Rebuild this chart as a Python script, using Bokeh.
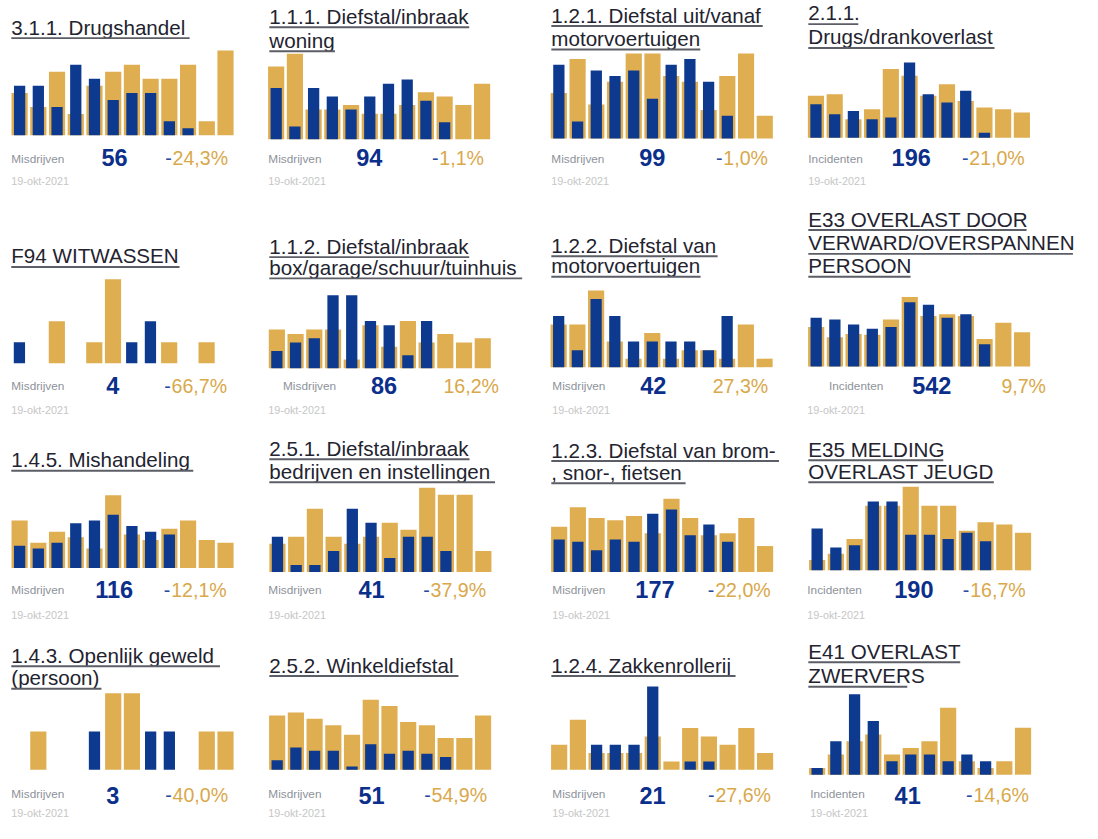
from bokeh.plotting import figure
from bokeh.layouts import gridplot
from bokeh.models import Range1d, Label, BoxAnnotation
from bokeh.embed import file_html
from bokeh.resources import INLINE

# ---------------- data ----------------
TITLES = [
    ["3.1.1. Drugshandel"],
    ["1.1.1. Diefstal/inbraak", "woning"],
    ["1.2.1. Diefstal uit/vanaf", "motorvoertuigen"],
    ["2.1.1.", "Drugs/drankoverlast"],
    ["F94 WITWASSEN"],
    ["1.1.2. Diefstal/inbraak", "box/garage/schuur/tuinhuis"],
    ["1.2.2. Diefstal van", "motorvoertuigen"],
    ["E33 OVERLAST DOOR", "VERWARD/OVERSPANNEN", "PERSOON"],
    ["1.4.5. Mishandeling"],
    ["2.5.1. Diefstal/inbraak", "bedrijven en instellingen"],
    ["1.2.3. Diefstal van brom-", ", snor-, fietsen"],
    ["E35 MELDING", "OVERLAST JEUGD"],
    ["1.4.3. Openlijk geweld", "(persoon)"],
    ["2.5.2. Winkeldiefstal"],
    ["1.2.4. Zakkenrollerij"],
    ["E41 OVERLAST", "ZWERVERS"],
]
UNITS = ["Misdrijven", "Misdrijven", "Misdrijven", "Incidenten",
         "Misdrijven", "Misdrijven", "Misdrijven", "Incidenten",
         "Misdrijven", "Misdrijven", "Misdrijven", "Incidenten",
         "Misdrijven", "Misdrijven", "Misdrijven", "Incidenten"]
TOTALS = ["56", "94", "99", "196", "4", "86", "42", "542",
          "116", "41", "177", "190", "3", "51", "21", "41"]
PCTS = ["-24,3%", "-1,1%", "-1,0%", "-21,0%", "-66,7%", "16,2%", "27,3%", "9,7%",
        "-12,1%", "-37,9%", "-22,0%", "-16,7%", "-40,0%", "-54,9%", "-27,6%", "-14,6%"]
DATE = "19-okt-2021"

# previous year (12 months, gold) and current year (Jan-Oct, blue)
GOLD = [
    [6, 4, 9, 3, 7, 9, 10, 8, 8, 10, 2, 12],
    [17, 20, 7, 7, 8, 6, 6, 8, 11, 10, 8, 13],
    [8, 14, 6, 10, 15, 15, 11, 10, 5, 11, 15, 4],
    [25, 26, 11, 17, 41, 37, 25, 32, 22, 18, 17, 15],
    [0, 0, 2, 0, 1, 4, 0, 0, 1, 0, 1, 0],
    [9, 8, 9, 9, 2, 10, 5, 11, 6, 8, 6, 7],
    [5, 5, 9, 3, 1, 4, 1, 2, 2, 1, 5, 1],
    [46, 34, 38, 37, 55, 81, 59, 61, 59, 32, 51, 40],
    [17, 9, 13, 11, 7, 26, 12, 10, 14, 17, 10, 9],
    [4, 5, 9, 5, 4, 5, 7, 6, 12, 11, 11, 3],
    [21, 30, 25, 24, 26, 18, 34, 25, 17, 18, 25, 12],
    [5, 8, 15, 31, 31, 40, 31, 31, 19, 23, 22, 18],
    [0, 1, 0, 0, 0, 2, 2, 0, 0, 0, 1, 1],
    [17, 18, 16, 14, 11, 22, 20, 15, 14, 10, 10, 17],
    [3, 6, 2, 2, 2, 4, 1, 5, 4, 3, 5, 2],
    [1, 3, 5, 6, 3, 4, 5, 10, 2, 1, 2, 7],
]
BLUE = [
    [7, 7, 4, 10, 8, 5, 6, 6, 2, 1],
    [12, 3, 12, 10, 7, 10, 13, 14, 9, 4],
    [13, 3, 12, 11, 12, 7, 13, 14, 10, 4],
    [20, 14, 16, 11, 12, 45, 26, 21, 28, 3],
    [1, 0, 0, 0, 0, 0, 1, 2, 0, 0],
    [4, 6, 7, 17, 17, 11, 10, 3, 11, 0],
    [6, 2, 8, 6, 3, 3, 3, 3, 2, 6],
    [57, 55, 49, 44, 46, 75, 72, 57, 61, 26],
    [8, 7, 9, 16, 17, 19, 15, 13, 12, 0],
    [5, 1, 1, 3, 9, 7, 2, 5, 5, 3],
    [15, 14, 10, 15, 14, 27, 29, 17, 22, 14],
    [20, 11, 12, 33, 33, 17, 17, 15, 18, 14],
    [0, 0, 0, 0, 1, 0, 0, 1, 1, 0],
    [3, 7, 6, 6, 1, 8, 5, 6, 5, 4],
    [0, 0, 3, 3, 3, 10, 0, 1, 1, 0],
    [1, 5, 12, 8, 2, 3, 3, 2, 3, 2],
]

# ---------------- layout (reference pixels) ----------------
S = 0.98
COL_X0 = [0, 265, 553, 815]
COL_W = [265, 288, 262, 283]
ROW_Y0 = [0, 208, 440, 648]
ROW_H = [208, 232, 208, 191]
TITLE_X = [11, 274, 562, 824]
PITCH = 19.1
GOLD_W = 16.5
BLUE_W = 11.5
BASE_SHIFT = 0.37  # alphabetic-baseline correction, fraction of font size

XC0 = [19.5, 281, 569.7, 831.8, 19.3, 281.7, 569.5, 832,
       19.5, 282.3, 570, 833, 19.5, 282, 570, 833]
BASE = [137.5, 141.7, 140.7, 140, 370, 375, 374, 373.3,
        579.3, 583.3, 583.3, 581.7, 785, 785, 785, 790]
PPU = [7.2, 4.37, 5.78, 1.708, 21.4, 4.37, 8.7, 0.874,
       2.854, 7.16, 2.2, 2.131, 39, 3.25, 8.5, 6.83]
TITLE_Y = [
    [35], [24, 48.3], [22.7, 46.7], [20.7, 45],
    [268.3], [258.3, 280], [257.3, 278.3], [230.7, 255, 278.3],
    [476.7], [465, 488.3], [466.7, 489.3], [466, 488.3],
    [676, 699], [686], [686], [672, 697],
]
UL_END = [
    [193], [478, 341], [777.7, 714], [875, 1014],
    [182.7], [478, 532], [731.7, 714.3], [1046.7, 1094, 928.3],
    [196.7], [478.3, 504.3], [794.3, 699], [961.7, 1013.3],
    [224, 103], [467], [750], [979, 925],
]
LAB_Y = [166, 398, 606.5, 814]
NUM_Y = [169, 401.5, 610.5, 820]
PCT_Y = [168, 400.5, 609, 818]
DATE_Y = [188, 421.5, 631, 833]
UNIT_X = [11, 273, 562, 824, 11, 288, 563, 845, 11, 273, 563, 823, 11, 273, 563, 826]
NUM_X = [103, 362.7, 651.7, 909, 108, 377.7, 652.7, 930,
         96.7, 365, 647.7, 911.7, 108, 365, 652, 912]
PCT_X = [168, 440, 730, 980.7, 167, 451.7, 726.7, 1021,
         166.7, 431, 721.7, 981.7, 168, 432, 722, 985]

C_GOLD = "#DFAE51"
C_BLUE = "#0D3A8E"
C_TITLE = "#23232f"
C_UL = "#5b5e66"
C_UNIT = "#8d929a"
C_NUM = "#0b2f8a"
C_MINUS = "#2b4c9b"
C_PCT = "#D9A84B"
C_DATE = "#c6c6c6"
FONT = "Liberation Sans"


def px(v):
    return f"{v * S:.1f}px"


def make_panel(i):
    r, c = divmod(i, 4)
    W = round(COL_W[c] * S)
    H = round(ROW_H[r] * S)
    x0, y0 = COL_X0[c], ROW_Y0[r]
    xc, base, ppu = XC0[i], BASE[i], PPU[i]

    def dx(xa):
        return (xa - xc) / PITCH

    def dy(ya):
        return (base - ya) / ppu

    def label(xa, ya, text, size, color, style="normal"):
        p.add_layout(Label(x=dx(xa), y=dy(ya - BASE_SHIFT * size), text=text,
                           text_font=FONT, text_font_size=px(size),
                           text_font_style=style, text_color=color,
                           text_baseline="alphabetic", text_align="left"))

    p = figure(width=W, height=H,
               x_range=Range1d(dx(x0), dx(x0 + W / S)),
               y_range=Range1d(dy(y0 + H / S), dy(y0)),
               toolbar_location=None, output_backend="svg",
               x_axis_location=None, y_axis_location=None,
               min_border=0, outline_line_color=None,
               background_fill_color="white", border_fill_color="white")
    p.grid.grid_line_color = None

    gold = GOLD[i]
    blue = BLUE[i]
    p.vbar(x=list(range(len(gold))), top=gold, bottom=0, width=GOLD_W / PITCH,
           fill_color=C_GOLD, line_color=None)
    p.vbar(x=list(range(len(blue))), top=blue, bottom=0, width=BLUE_W / PITCH,
           fill_color=C_BLUE, line_color=None)

    tx = TITLE_X[c]
    for line, ty, ue in zip(TITLES[i], TITLE_Y[i], UL_END[i]):
        label(tx, ty, line, 21, C_TITLE)
        p.add_layout(BoxAnnotation(left=dx(tx), right=dx(ue),
                                   top=dy(ty + 2.4), bottom=dy(ty + 4.4),
                                   fill_color=C_UL, fill_alpha=1.0,
                                   line_alpha=0, level="annotation"))

    label(UNIT_X[i], LAB_Y[r], UNITS[i], 12, C_UNIT)
    label(NUM_X[i], NUM_Y[r], TOTALS[i], 24, C_NUM, "bold")
    pct = PCTS[i]
    pxs = PCT_X[i]
    if pct.startswith("-"):
        label(pxs, PCT_Y[r], "-", 20, C_MINUS)
        pct = pct[1:]
        pxs += 7.5
    label(pxs, PCT_Y[r], pct, 20, C_PCT)
    label(UNIT_X[i] if (r, c) != (1, 1) and (r, c) != (1, 3) else tx - 1,
          DATE_Y[r], DATE, 11, C_DATE)
    return p


panels = [make_panel(i) for i in range(16)]
grid = gridplot([panels[k * 4:(k + 1) * 4] for k in range(4)], toolbar_location=None)

open("out.html", "w").write(file_html(grid, INLINE))
